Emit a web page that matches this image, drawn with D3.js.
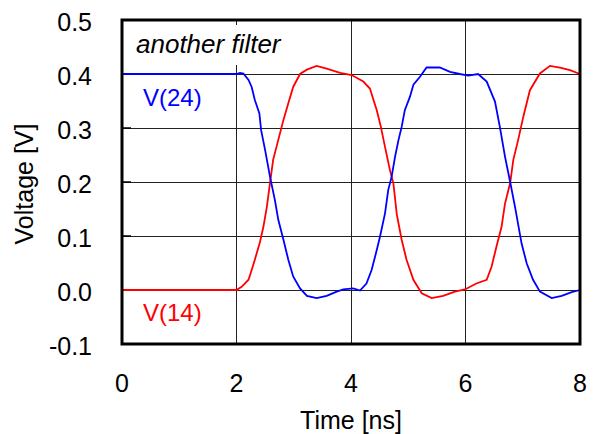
<!DOCTYPE html>
<html>
<head>
<meta charset="utf-8">
<script src="https://cdn.jsdelivr.net/npm/d3@7"></script>
<style>
  body { margin: 0; background: #fff; }
  text { font-family: "Liberation Sans", Arial, sans-serif; fill: #000; }
</style>
</head>
<body>
<div id="chart"></div>
<script>
// data (time in ns, voltage in V)
var v24Time = [0, 2.0, 2.06, 2.12, 2.21, 2.265, 2.32, 2.40, 2.43, 2.50, 2.585, 2.67, 2.73, 2.82, 2.905, 2.99, 3.11, 3.23, 3.40, 3.575, 3.75, 3.865, 4.04, 4.157, 4.27, 4.36, 4.45, 4.507, 4.594, 4.65, 4.71, 4.77, 4.83, 4.885, 4.94, 5.03, 5.09, 5.205, 5.32, 5.55, 5.73, 5.90, 6.05, 6.22, 6.37, 6.515, 6.60, 6.69, 6.78, 6.865, 6.98, 7.07, 7.18, 7.30, 7.505, 7.68, 7.855, 8.0];
var v24Value = [0.4, 0.4, 0.402, 0.401, 0.389, 0.376, 0.352, 0.327, 0.296, 0.259, 0.21, 0.167, 0.13, 0.093, 0.056, 0.025, 0.003, -0.011, -0.015, -0.011, -0.003, 0.001, 0.003, -0.001, 0.012, 0.037, 0.074, 0.099, 0.142, 0.185, 0.21, 0.247, 0.278, 0.302, 0.333, 0.358, 0.38, 0.395, 0.412, 0.412, 0.404, 0.40, 0.397, 0.40, 0.386, 0.349, 0.302, 0.247, 0.20, 0.154, 0.086, 0.049, 0.019, -0.003, -0.015, -0.011, -0.004, 0.0];

var v14Time = [0, 2.0, 2.09, 2.21, 2.265, 2.32, 2.41, 2.47, 2.53, 2.585, 2.64, 2.73, 2.82, 2.905, 2.99, 3.11, 3.23, 3.40, 3.575, 3.81, 4.01, 4.215, 4.33, 4.45, 4.52, 4.594, 4.68, 4.74, 4.80, 4.885, 4.97, 5.09, 5.235, 5.41, 5.61, 5.815, 5.99, 6.19, 6.37, 6.455, 6.54, 6.63, 6.69, 6.78, 6.835, 6.92, 7.01, 7.125, 7.30, 7.475, 7.65, 7.825, 8.0];
var v14Value = [0, 0, 0.006, 0.019, 0.037, 0.056, 0.089, 0.117, 0.154, 0.198, 0.241, 0.278, 0.315, 0.346, 0.376, 0.40, 0.408, 0.415, 0.41, 0.402, 0.398, 0.386, 0.373, 0.333, 0.303, 0.265, 0.222, 0.198, 0.14, 0.093, 0.056, 0.019, -0.006, -0.015, -0.011, -0.003, 0.001, 0.012, 0.019, 0.043, 0.080, 0.117, 0.16, 0.198, 0.241, 0.278, 0.321, 0.37, 0.401, 0.415, 0.412, 0.407, 0.40];

var xTicks = [0, 2, 4, 6, 8];
var yTicks = [-0.1, 0.0, 0.1, 0.2, 0.3, 0.4, 0.5];
var yGrid = [0.0, 0.1, 0.2, 0.3, 0.4];
var xGrid = [2, 4, 6];

var W = 596, H = 434;
// plot box (note: "top" is taken by window.top, so use pTop etc.)
var pLeft = 122, pRight = 580, pTop = 20, pBottom = 344;

var svg = d3.select("#chart").append("svg")
    .attr("width", W)
    .attr("height", H);

var x = d3.scaleLinear().domain([0, 8]).range([pLeft, pRight]);
var y = d3.scaleLinear().domain([-0.1, 0.5]).range([pBottom, pTop]);

// grid
svg.selectAll(".hgrid").data(yGrid).enter().append("line")
    .attr("x1", pLeft).attr("x2", pRight)
    .attr("y1", function (d) { return y(d); })
    .attr("y2", function (d) { return y(d); })
    .attr("stroke", "#222").attr("stroke-width", 1)
    .attr("shape-rendering", "crispEdges");

svg.selectAll(".vgrid").data(xGrid).enter().append("line")
    .attr("y1", pTop).attr("y2", pBottom)
    .attr("x1", function (d) { return x(d); })
    .attr("x2", function (d) { return x(d); })
    .attr("stroke", "#222").attr("stroke-width", 1)
    .attr("shape-rendering", "crispEdges");

// small inward ticks on the left edge
svg.selectAll(".ytick").data(yGrid).enter().append("line")
    .attr("x1", pLeft).attr("x2", pLeft + 9)
    .attr("y1", function (d) { return y(d); })
    .attr("y2", function (d) { return y(d); })
    .attr("stroke", "#000").attr("stroke-width", 1.5);

// title box covers the grid
svg.append("rect")
    .attr("x", pLeft + 2).attr("y", pTop + 5)
    .attr("width", 170).attr("height", 40)
    .attr("fill", "#fff");

svg.append("text")
    .attr("x", 136).attr("y", 53)
    .style("font-size", "26px").style("font-style", "italic")
    .text("another filter");

var line = d3.line()
    .x(function (d) { return x(d[0]); })
    .y(function (d) { return y(d[1]); });

svg.append("path")
    .datum(d3.zip(v14Time, v14Value))
    .attr("d", line)
    .attr("fill", "none").attr("stroke", "#ff0000").attr("stroke-width", 1.8);

svg.append("path")
    .datum(d3.zip(v24Time, v24Value))
    .attr("d", line)
    .attr("fill", "none").attr("stroke", "#0000ff").attr("stroke-width", 1.8);

// frame
svg.append("rect")
    .attr("x", pLeft).attr("y", pTop)
    .attr("width", pRight - pLeft).attr("height", pBottom - pTop)
    .attr("fill", "none").attr("stroke", "#000").attr("stroke-width", 3);

// tick labels
svg.selectAll(".ylab").data(yTicks).enter().append("text")
    .attr("x", 92)
    .attr("y", function (d) { return y(d) + 11; })
    .attr("text-anchor", "end")
    .style("font-size", "25px")
    .text(function (d) { return d.toFixed(1); });

svg.selectAll(".xlab").data(xTicks).enter().append("text")
    .attr("x", function (d) { return x(d); })
    .attr("y", 392)
    .attr("text-anchor", "middle")
    .style("font-size", "25px")
    .text(function (d) { return d; });

svg.append("text")
    .attr("x", 351).attr("y", 429)
    .attr("text-anchor", "middle")
    .style("font-size", "25px")
    .text("Time [ns]");

svg.append("text")
    .attr("transform", "translate(33,184) rotate(-90)")
    .attr("text-anchor", "middle")
    .style("font-size", "25px")
    .text("Voltage [V]");

// series labels
svg.append("text")
    .attr("x", 143).attr("y", 106)
    .style("font-size", "24px").style("fill", "#0000ff")
    .text("V(24)");

svg.append("text")
    .attr("x", 143).attr("y", 321)
    .style("font-size", "24px").style("fill", "#ff0000")
    .text("V(14)");
</script>
</body>
</html>
